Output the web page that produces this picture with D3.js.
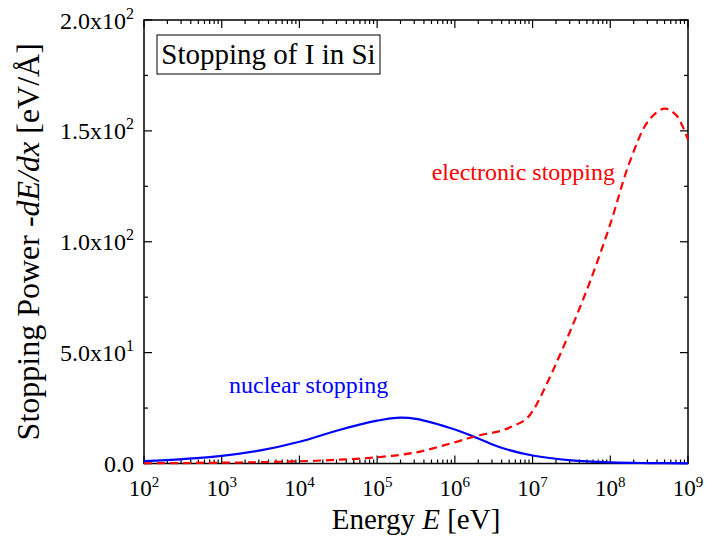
<!DOCTYPE html>
<html>
<head>
<meta charset="utf-8">
<script src="https://cdn.jsdelivr.net/npm/d3@7"></script>
<style>
  html, body { margin: 0; padding: 0; background: #fff; }
  svg { display: block; }
  text { font-family: "Liberation Serif", "Times New Roman", serif; }
</style>
</head>
<body>
<svg id="chart" width="705" height="542"></svg>
<script>
// ---- data ----
const nuclearEnergy = [1e2, 3.16e2, 1e3, 3.16e3, 1e4, 3.16e4, 1e5, 1.78e5, 3.16e5, 1e6, 2e6, 3.98e6, 1e7, 3.16e7, 1e8, 3.16e8, 1e9];
const nuclearStopping = [1.1, 2.0, 3.4, 5.9, 9.8, 15.0, 19.3, 20.6, 20.1, 15.3, 11.3, 7.1, 3.6, 1.4, 0.5, 0.2, 0.1];

const electronicEnergy = [1e2, 3.16e2, 1e3, 3.16e3, 1e4, 3.16e4, 1e5, 3.16e5, 1e6, 2e6, 3.98e6, 5.62e6, 7.94e6, 1e7, 1.26e7, 1.78e7, 3.16e7, 5.62e7, 1e8, 1.78e8, 3.16e8, 5.01e8, 7.08e8, 1e9];
const electronicStopping = [0.1, 0.2, 0.35, 0.6, 1.0, 1.7, 2.8, 5.0, 9.6, 12.6, 14.8, 16.9, 19.6, 23.5, 30, 41, 61, 83, 108, 136, 155, 160, 157, 146];

const xMajorTicks = [1e2, 1e3, 1e4, 1e5, 1e6, 1e7, 1e8, 1e9];
const xTickExponents = ["2", "3", "4", "5", "6", "7", "8", "9"];
const yMajorTicks = [0, 50, 100, 150, 200];
const yTickMantissa = ["0.0", "5.0x10", "1.0x10", "1.5x10", "2.0x10"];
const yTickExponent = ["", "1", "2", "2", "2"];
const yMinorTicks = [25, 75, 125, 175];

// ---- layout ----
const pL = 144, pR = 688, pT = 20, pB = 463.5;
const svg = d3.select("#chart");

const x = d3.scaleLog().domain([1e2, 1e9]).range([pL, pR]);
const y = d3.scaleLinear().domain([0, 200]).range([pB, pT]);

// minor x ticks
const xMinor = [];
for (let k = 2; k < 9; k++) for (let m = 2; m <= 9; m++) xMinor.push(m * Math.pow(10, k));

const axisG = svg.append("g").attr("stroke", "#000").attr("stroke-width", 1.2);

// frame
svg.append("rect").attr("x", pL).attr("y", pT).attr("width", pR - pL).attr("height", pB - pT)
  .attr("fill", "none").attr("stroke", "#000").attr("stroke-width", 1.5);

// x ticks bottom & top (inward)
xMajorTicks.forEach(v => {
  axisG.append("line").attr("x1", x(v)).attr("x2", x(v)).attr("y1", pB).attr("y2", pB - 8);
  axisG.append("line").attr("x1", x(v)).attr("x2", x(v)).attr("y1", pT).attr("y2", pT + 8);
});
xMinor.forEach(v => {
  axisG.append("line").attr("x1", x(v)).attr("x2", x(v)).attr("y1", pB).attr("y2", pB - 4);
  axisG.append("line").attr("x1", x(v)).attr("x2", x(v)).attr("y1", pT).attr("y2", pT + 4);
});
// y ticks left & right
yMajorTicks.forEach(v => {
  axisG.append("line").attr("x1", pL).attr("x2", pL + 8).attr("y1", y(v)).attr("y2", y(v));
  axisG.append("line").attr("x1", pR).attr("x2", pR - 8).attr("y1", y(v)).attr("y2", y(v));
});
yMinorTicks.forEach(v => {
  axisG.append("line").attr("x1", pL).attr("x2", pL + 4).attr("y1", y(v)).attr("y2", y(v));
  axisG.append("line").attr("x1", pR).attr("x2", pR - 4).attr("y1", y(v)).attr("y2", y(v));
});

// x tick labels
xMajorTicks.forEach((v, i) => {
  const t = svg.append("text").attr("x", x(v)).attr("y", 496).attr("text-anchor", "middle")
    .attr("font-size", 23).attr("fill", "#000");
  t.append("tspan").text("10");
  t.append("tspan").attr("dy", -9).attr("font-size", 15).text(xTickExponents[i]);
});
// y tick labels
yMajorTicks.forEach((v, i) => {
  const t = svg.append("text").attr("x", 134).attr("y", y(v) + 8.5).attr("text-anchor", "end")
    .attr("font-size", 24).attr("fill", "#000");
  t.append("tspan").text(yTickMantissa[i]);
  if (yTickExponent[i]) t.append("tspan").attr("dy", -10).attr("font-size", 16).text(yTickExponent[i]);
});

// axis titles
const xt = svg.append("text").attr("x", (pL + pR) / 2).attr("y", 529).attr("text-anchor", "middle")
  .attr("font-size", 29).attr("fill", "#000");
xt.append("tspan").text("Energy ");
xt.append("tspan").attr("font-style", "italic").text("E");
xt.append("tspan").text(" [eV]");

const yt = svg.append("text").attr("transform", `translate(39,${(pT + pB) / 2}) rotate(-90)`)
  .attr("text-anchor", "middle").attr("font-size", 32).attr("fill", "#000");
yt.append("tspan").text("Stopping Power ");
yt.append("tspan").attr("font-style", "italic").text("-dE/dx");
yt.append("tspan").text(" [eV/Å]");

// curves
const line = (xs, ys) => d3.line().x((d, i) => x(xs[i])).y(d => y(d)).curve(d3.curveCatmullRom.alpha(0.5))(ys);

svg.append("path").attr("d", line(nuclearEnergy, nuclearStopping))
  .attr("fill", "none").attr("stroke", "#0000ff").attr("stroke-width", 2.2);
svg.append("path").attr("d", line(electronicEnergy, electronicStopping))
  .attr("fill", "none").attr("stroke", "#ff0000").attr("stroke-width", 2.2)
  .attr("stroke-dasharray", "8,5");

// curve labels
svg.append("text").attr("x", 229).attr("y", 393).attr("font-size", 24).attr("fill", "#0000ff").text("nuclear stopping");
svg.append("text").attr("x", 615).attr("y", 180).attr("text-anchor", "end").attr("font-size", 24).attr("fill", "#ff0000").text("electronic stopping");

// title box
svg.append("rect").attr("x", 157).attr("y", 35).attr("width", 223).attr("height", 39)
  .attr("fill", "#fff").attr("stroke", "#000").attr("stroke-width", 1);
svg.append("text").attr("x", 268.5).attr("y", 64).attr("text-anchor", "middle").attr("font-size", 29)
  .attr("fill", "#000").text("Stopping of I in Si");
</script>
</body>
</html>
